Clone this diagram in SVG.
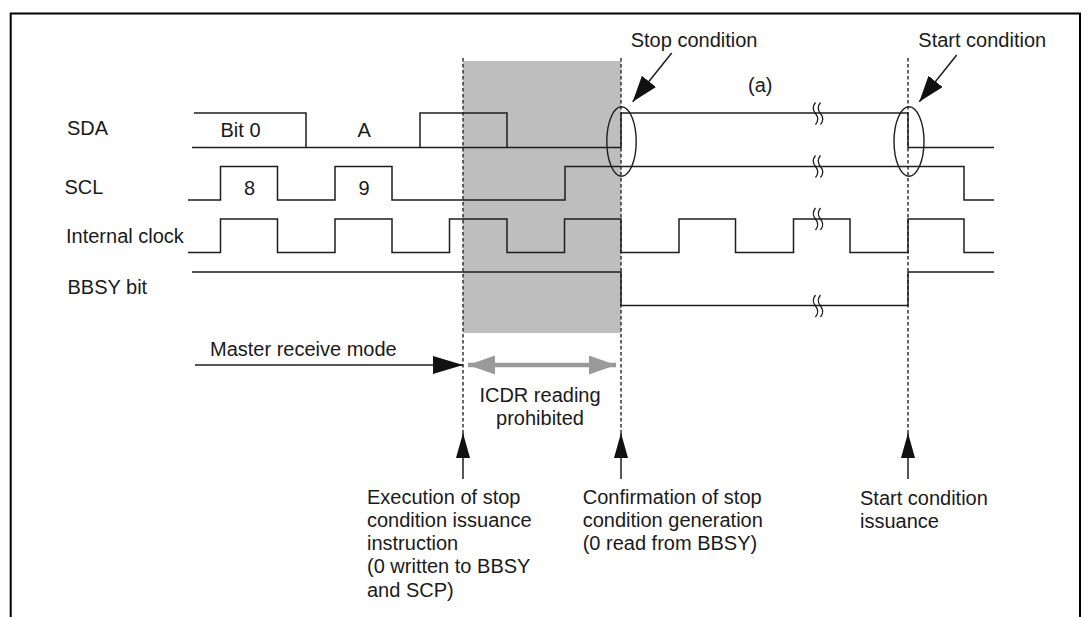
<svg xmlns="http://www.w3.org/2000/svg" width="1090" height="617" viewBox="0 0 1090 617">
<defs>
<style>
.sig{fill:none;stroke:#1e1e1e;stroke-width:1.5;stroke-linejoin:miter}
.dash{fill:none;stroke:#333;stroke-width:1.5;stroke-dasharray:3.5 2.5}
.ell{fill:none;stroke:#1e1e1e;stroke-width:1.4}
.lbl{font-family:"Liberation Sans",Arial,Helvetica,sans-serif;font-size:20px;fill:#1a1a1a}
.arr{fill:none;stroke:#1e1e1e;stroke-width:1.5}
.brk{fill:none;stroke:#1e1e1e;stroke-width:1.3}
</style>
<marker id="ahH" markerUnits="userSpaceOnUse" viewBox="0 0 30 18" refX="30" refY="9" markerWidth="30" markerHeight="18" orient="auto">
<path d="M0,0 L30,9 L0,18 Z" fill="#111"/>
</marker>
<marker id="ahU" markerUnits="userSpaceOnUse" viewBox="0 0 25 14" refX="25" refY="7" markerWidth="25" markerHeight="14" orient="auto">
<path d="M0,0 L25,7 L0,14 Z" fill="#111"/>
</marker>
<marker id="ahD" markerUnits="userSpaceOnUse" viewBox="0 0 26 18" refX="26" refY="9" markerWidth="26" markerHeight="18" orient="auto">
<path d="M0,0 L26,9 L0,18 Z" fill="#111"/>
</marker>
<marker id="ahG" markerUnits="userSpaceOnUse" viewBox="0 0 27 19" refX="27" refY="9.5" markerWidth="27" markerHeight="19" orient="auto-start-reverse">
<path d="M0,0 L27,9.5 L0,19 Z" fill="#9a9a9a"/>
</marker>
<path id="sq" d="M-2.5,-11 Q-7,-5.5 -2.5,0 Q2,5.5 -2.5,11 M2.5,-11 Q-2,-5.5 2.5,0 Q7,5.5 2.5,11"/>
</defs>
<rect width="1090" height="617" fill="#fff"/>
<g id="frame">
<path d="M10.7,617 V13.5 H1080 V617" fill="none" stroke="#000" stroke-width="2"/>
</g>
<g id="prohibited-zone">
<rect x="463" y="61" width="158" height="272" fill="#bebebe"/>
</g>
<g id="guides">
<line class="dash" x1="463" y1="58" x2="463" y2="433"/>
<line class="dash" x1="621" y1="58" x2="621" y2="433"/>
<line class="dash" x1="908" y1="58" x2="908" y2="433"/>
</g>
<g id="sda">
<text class="lbl" x="67" y="135">SDA</text>
<path class="sig" d="M194,113 H306 V147.5"/>
<path class="sig" d="M192,147.5 H621 V113 H908 V147.5 H994"/>
<path class="sig" d="M420,147.5 V113 H507 V147.5"/>
<text class="lbl" x="220.5" y="137">Bit 0</text>
<text class="lbl" x="357.5" y="137">A</text>
<use href="#sq" x="818" y="113.5" class="brk"/>
</g>
<g id="scl">
<text class="lbl" x="64.5" y="194">SCL</text>
<path class="sig" d="M188,200 H220.5 V166.5 H277.5 V200 H335 V166.5 H392 V200 H565 V166.5 H964 V200 H994"/>
<text class="lbl" x="244" y="195">8</text>
<text class="lbl" x="358.5" y="195">9</text>
<use href="#sq" x="818" y="166.5" class="brk"/>
</g>
<g id="internal-clock">
<text class="lbl" x="66" y="243">Internal clock</text>
<path class="sig" d="M188,252.5 H220.5 V219 H277.5 V252.5 H335 V219 H392 V252.5 H449.5 V219 H507 V252.5 H564.5 V219 H621 V252.5 H679 V219 H735.5 V252.5 H793.5 V219 H850 V252.5 H908 V219 H964 V252.5 H994"/>
<use href="#sq" x="818" y="219" class="brk"/>
</g>
<g id="bbsy">
<text class="lbl" x="67.5" y="294">BBSY bit</text>
<path class="sig" d="M192,272 H621 V305.5 H908 V272 H994"/>
<use href="#sq" x="818" y="306" class="brk"/>
</g>
<g id="stop-condition">
<ellipse class="ell" cx="621.5" cy="141.5" rx="14.7" ry="34.7"/>
<text class="lbl" x="630.7" y="47">Stop condition</text>
</g>
<g id="start-condition">
<ellipse class="ell" cx="909" cy="141.5" rx="15" ry="34.7"/>
<text class="lbl" x="918.3" y="47">Start condition</text>
</g>
<g id="label-a">
<text class="lbl" x="748" y="92">(a)</text>
</g>
<g id="connectors">
<line class="arr" x1="671.7" y1="53" x2="632.7" y2="101.7" marker-end="url(#ahD)"/>
<line class="arr" x1="956.7" y1="55" x2="919.3" y2="101.7" marker-end="url(#ahD)"/>
<line class="arr" x1="195" y1="365" x2="463" y2="365" marker-end="url(#ahH)"/>
<line x1="468" y1="365" x2="616" y2="365" stroke="#9a9a9a" stroke-width="4.5" marker-start="url(#ahG)" marker-end="url(#ahG)"/>
<line class="arr" x1="463" y1="479" x2="463" y2="433" marker-end="url(#ahU)"/>
<line class="arr" x1="621" y1="479" x2="621" y2="433" marker-end="url(#ahU)"/>
<line class="arr" x1="908" y1="479" x2="908" y2="433" marker-end="url(#ahU)"/>
</g>
<g id="master-receive-mode">
<text class="lbl" x="210" y="356">Master receive mode</text>
</g>
<g id="icdr-prohibited">
<text class="lbl" x="540" y="402" text-anchor="middle">ICDR reading</text>
<text class="lbl" x="540" y="425" text-anchor="middle">prohibited</text>
</g>
<g id="execution-note">
<text class="lbl" x="367" y="504">Execution of stop</text>
<text class="lbl" x="367" y="527">condition issuance</text>
<text class="lbl" x="367" y="550">instruction</text>
<text class="lbl" x="367" y="573">(0 written to BBSY</text>
<text class="lbl" x="367" y="597">and SCP)</text>
</g>
<g id="confirmation-note">
<text class="lbl" x="582.7" y="504">Confirmation of stop</text>
<text class="lbl" x="582.7" y="527">condition generation</text>
<text class="lbl" x="582.7" y="550">(0 read from BBSY)</text>
</g>
<g id="start-issuance-note">
<text class="lbl" x="860" y="505">Start condition</text>
<text class="lbl" x="860" y="528">issuance</text>
</g>
</svg>
